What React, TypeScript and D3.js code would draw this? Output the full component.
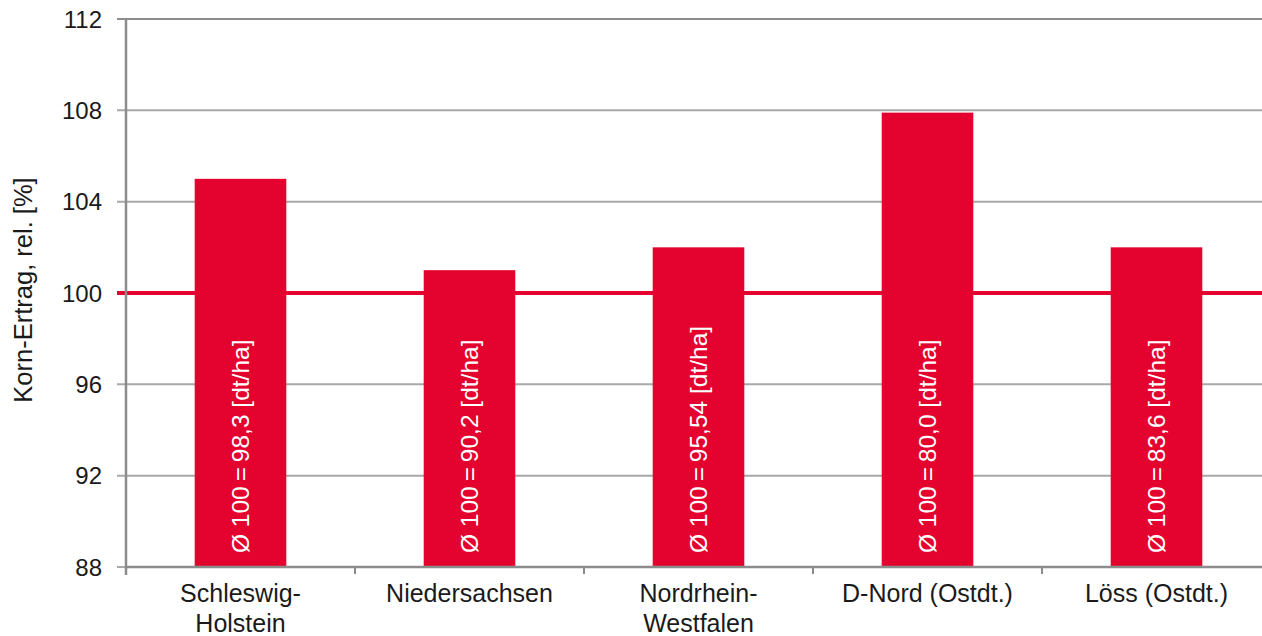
import React from 'react';
import * as d3 from 'd3';

const regions: string[][] = [
  ['Schleswig-', 'Holstein'],
  ['Niedersachsen'],
  ['Nordrhein-', 'Westfalen'],
  ['D-Nord (Ostdt.)'],
  ['Löss (Ostdt.)'],
];
const relYield: number[] = [105, 101, 102, 107.9, 102];
const baseYield: string[] = ['98,3', '90,2', '95,54', '80,0', '83,6'];
const yTicks: number[] = [88, 92, 96, 100, 104, 108, 112];

const width = 1262;
const height = 636;
const marginLeft = 126;
const marginTop = 19;
const plotRight = 1271;
const plotBottom = 567;

const red = '#e4032e';
const font = '"Liberation Sans", Arial, sans-serif';

const App: React.FC = () => {
  const keys = regions.map(r => r.join(''));

  const x = d3.scaleBand<string>()
    .domain(keys)
    .range([marginLeft, plotRight])
    .paddingInner(0.6)
    .paddingOuter(0.3);

  const y = d3.scaleLinear()
    .domain([88, 112])
    .range([plotBottom, marginTop]);

  const step = x.step();
  const boundaries = d3.range(keys.length + 1).map(i => marginLeft + i * step);

  return (
    <svg
      width={width}
      height={height}
      style={{ position: 'absolute', left: 0, top: 0, background: '#fff' }}
      fontFamily={font}
    >
      {/* grid */}
      <g>
        {yTicks.map(t => (
          <line key={t} x1={117} x2={width} y1={y(t)} y2={y(t)}
            stroke={t === 112 ? '#8c8c8c' : '#a8a8a8'} strokeWidth={2} />
        ))}
      </g>

      {/* reference line at 100 */}
      <line x1={117} x2={width} y1={y(100)} y2={y(100)} stroke={red} strokeWidth={4} />

      {/* bars */}
      <g>
        {keys.map((k, i) => {
          const bx = x(k) as number;
          const bw = x.bandwidth();
          const cx = bx + bw / 2;
          return (
            <g key={k}>
              <rect x={bx} y={y(relYield[i])} width={bw} height={y(88) - y(relYield[i])} fill={red} />
              <text
                transform={`translate(${cx},${plotBottom - 14}) rotate(-90)`}
                dy="0.36em"
                fill="#fff"
                fontSize={24.5}
                textAnchor="start"
              >
                {`Ø 100\u2009=\u2009${baseYield[i]} [dt/ha]`}
              </text>
            </g>
          );
        })}
      </g>

      {/* y axis */}
      <line x1={marginLeft} x2={marginLeft} y1={marginTop - 1} y2={plotBottom + 8} stroke="#8c8c8c" strokeWidth={2.5} />
      <g>
        {yTicks.map(t => (
          <text key={t} x={102} y={y(t)} dy="0.36em" textAnchor="end" fontSize={24} fill="#1a1a1a">
            {t}
          </text>
        ))}
      </g>
      <text
        transform={`translate(23,${y(100) - 3}) rotate(-90)`}
        dy="0.36em"
        textAnchor="middle"
        fontSize={25.5}
        fill="#1a1a1a"
      >
        Korn-Ertrag, rel. [%]
      </text>

      {/* x axis */}
      <line x1={marginLeft} x2={width} y1={plotBottom} y2={plotBottom} stroke="#8c8c8c" strokeWidth={2.5} />
      {boundaries.map((b, i) => (
        <line key={i} x1={b} x2={b} y1={plotBottom} y2={plotBottom + 7} stroke="#8c8c8c" strokeWidth={2} />
      ))}
      {keys.map((k, i) => (
        <text key={k} x={(x(k) as number) + x.bandwidth() / 2} textAnchor="middle" fontSize={25} fill="#1a1a1a">
          {regions[i].map((line, j) => (
            <tspan key={j} x={(x(k) as number) + x.bandwidth() / 2} y={602 + j * 30}>{line}</tspan>
          ))}
        </text>
      ))}
    </svg>
  );
};

export default App;
